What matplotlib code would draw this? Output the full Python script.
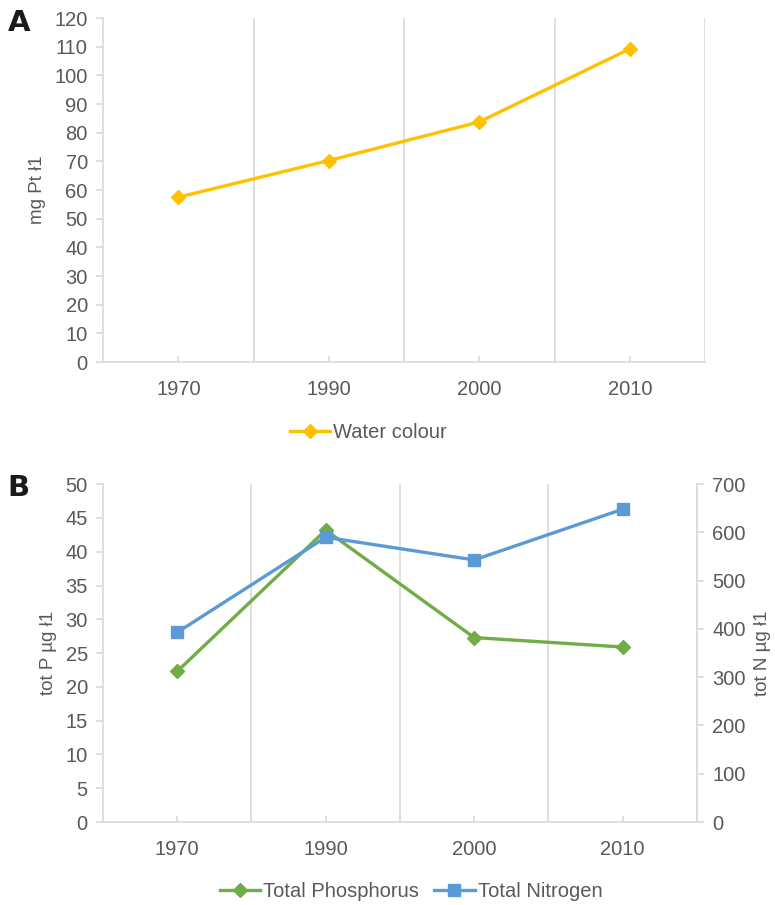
import matplotlib
matplotlib.use("Agg")
import matplotlib.pyplot as plt

plt.rcParams['font.family'] = ['Liberation Sans', 'DejaVu Sans']

# data
years = ['1970', '1990', '2000', '2010']
water_colour = [57.5, 70.3, 83.8, 109.3]
total_p = [22.3, 43.2, 27.3, 25.9]
total_n = [393, 590, 543, 648]

TEXT = '#595959'
GRID = '#D9D9D9'
ORANGE = '#FFC000'
GREEN = '#70AD47'
BLUE = '#5B9BD5'
FS = 14.5

fig = plt.figure(figsize=(7.75, 9.05), dpi=100)
x = list(range(len(years)))


def style_axis(ax, ymax, ystep):
    ax.set_xlim(-0.5, len(years) - 0.5)
    ax.set_ylim(0, ymax)
    ax.set_yticks(range(0, ymax + 1, ystep))
    ax.set_xticks(x)
    ax.set_xticklabels(years)
    # category separators
    for b in [0.5, 1.5, 2.5, 3.5]:
        ax.axvline(b, color=GRID, lw=1.2, zorder=0)
    for s in ['top', 'right']:
        ax.spines[s].set_visible(False)
    for s in ['left', 'bottom']:
        ax.spines[s].set_color(GRID)
        ax.spines[s].set_linewidth(1.2)
    ax.tick_params(axis='y', colors=GRID, labelcolor=TEXT, labelsize=FS,
                   length=5, width=1.2, pad=6)
    ax.tick_params(axis='x', colors=GRID, labelcolor=TEXT, labelsize=FS,
                   direction='in', length=4, width=1.2, pad=13)


# Panel A: water colour
axA = fig.add_axes([0.133, 0.600, 0.777, 0.380])
style_axis(axA, 120, 10)
axA.plot(x, water_colour, color=ORANGE, lw=2.4, marker='D', ms=7,
         label='Water colour', zorder=3)
axA.set_ylabel('mg Pt ł1', color=TEXT, fontsize=13.5, labelpad=6)
axA.legend(loc='upper center', bbox_to_anchor=(0.441, -0.125), frameon=False,
           fontsize=FS, labelcolor=TEXT, handlelength=2.0, handletextpad=0.15)
fig.text(0.010, 0.966, 'A', fontsize=21, fontweight='heavy', color='#1a1a1a',
         family='DejaVu Sans')

# Panel B: phosphorus and nitrogen
axB = fig.add_axes([0.133, 0.0917, 0.766, 0.3733])
style_axis(axB, 50, 5)
axB.set_ylabel('tot P µg ł1', color=TEXT, fontsize=13.5, labelpad=6)
lp, = axB.plot(x, total_p, color=GREEN, lw=2.4, marker='D', ms=7,
               label='Total Phosphorus', zorder=3)

axN = axB.twinx()
axN.set_ylim(0, 700)
axN.set_yticks(range(0, 701, 100))
for s in ['top', 'left', 'bottom']:
    axN.spines[s].set_visible(False)
axN.spines['right'].set_color(GRID)
axN.spines['right'].set_linewidth(1.2)
axN.tick_params(axis='y', colors=GRID, labelcolor=TEXT, labelsize=FS,
                length=5, width=1.2, pad=6)
ln, = axN.plot(x, total_n, color=BLUE, lw=2.4, marker='s', ms=8,
               label='Total Nitrogen', zorder=3)
axN.set_ylabel('tot N µg ł1', color=TEXT, fontsize=13.5, labelpad=6)

axB.legend(handles=[lp, ln], loc='upper center', bbox_to_anchor=(0.519, -0.125),
           ncol=2, frameon=False, fontsize=FS, labelcolor=TEXT,
           handlelength=2.0, handletextpad=0.15, columnspacing=0.75)
fig.text(0.010, 0.452, 'B', fontsize=21, fontweight='heavy', color='#1a1a1a',
         family='DejaVu Sans')

fig.savefig('out.png', dpi=100)
